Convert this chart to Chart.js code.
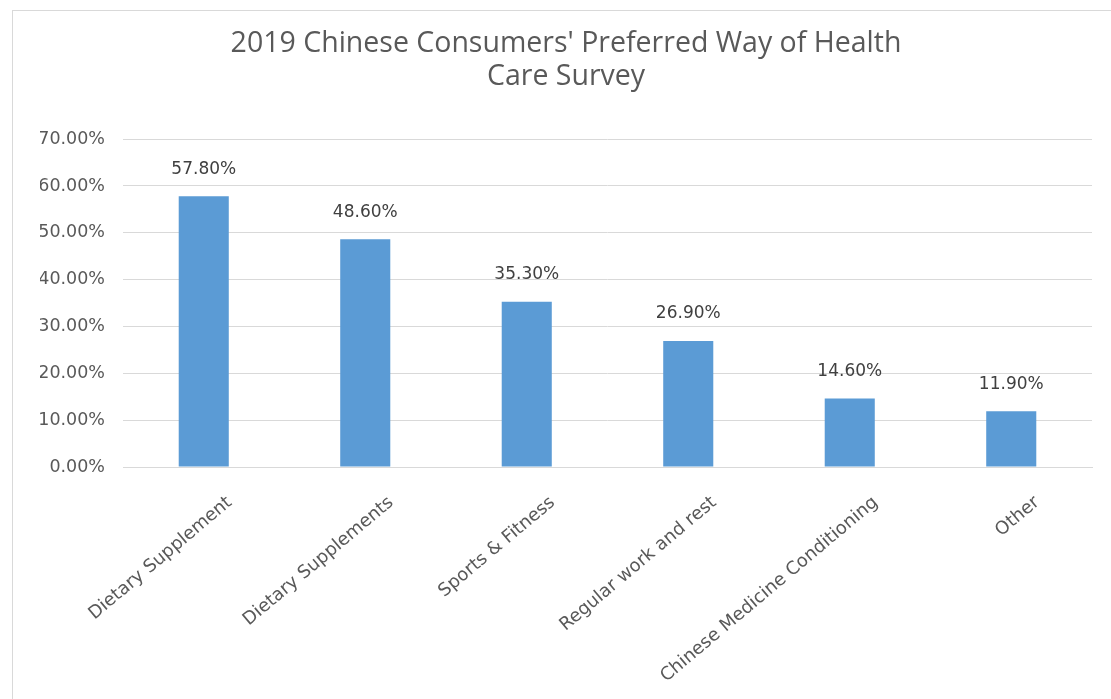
<!DOCTYPE html>
<html>
<head>
<meta charset="utf-8">
<script src="https://cdn.jsdelivr.net/npm/chart.js@4/dist/chart.umd.min.js"></script>
<style>
  html, body { margin: 0; padding: 0; background: #fff; }
  #frame { position: absolute; left: 12px; top: 10px; width: 1105px; height: 700px; border: 1px solid #d9d9d9; }
  #wrap { position: absolute; left: 0; top: 0; width: 1111px; height: 699px; }
</style>
</head>
<body>
<div id="frame"></div>
<div id="wrap"><canvas id="c" width="1111" height="699"></canvas></div>
<script>
const titleLines = ["2019 Chinese Consumers' Preferred Way of Health", "Care Survey"];
const categories = ["Dietary Supplement", "Dietary Supplements", "Sports & Fitness", "Regular work and rest", "Chinese Medicine Conditioning", "Other"];
const shares = [57.8, 48.6, 35.3, 26.9, 14.6, 11.9];
const yMax = 70;
const yStep = 10;

// value labels above each bar
const barLabels = {
  id: 'barLabels',
  afterDatasetsDraw(chart) {
    const ctx = chart.ctx;
    const meta = chart.getDatasetMeta(0);
    ctx.save();
    ctx.font = '17px "DejaVu Sans"';
    ctx.fillStyle = '#404040';
    ctx.textAlign = 'center';
    ctx.textBaseline = 'middle';
    meta.data.forEach((bar, i) => {
      ctx.fillText(shares[i].toFixed(2) + '%', bar.x, bar.y - 27);
    });
    ctx.restore();
  }
};

const ctx = document.getElementById('c').getContext('2d');
new Chart(ctx, {
  type: 'bar',
  data: {
    labels: categories,
    datasets: [{
      data: shares,
      backgroundColor: '#5b9bd5',
      barPercentage: 0.31,
      categoryPercentage: 1
    }]
  },
  options: {
    responsive: false,
    animation: false,
    layout: { padding: { left: 40, right: 19, top: 0, bottom: 0 } },
    plugins: {
      legend: { display: false },
      tooltip: { enabled: false },
      title: {
        display: true,
        text: titleLines,
        color: '#595959',
        font: { family: '"Open Sans"', size: 28.5, weight: 'normal', lineHeight: 1.16 },
        padding: { top: 27, bottom: 46 }
      }
    },
    scales: {
      x: {
        grid: { display: false },
        border: { display: true, color: '#d9d9d9' },
        ticks: {
          color: '#595959',
          font: { family: '"DejaVu Sans"', size: 18 },
          maxRotation: 40,
          minRotation: 40,
          padding: 17,
          labelOffset: 26
        },
        afterFit(s) { s.height = 232; }
      },
      y: {
        min: 0,
        max: yMax,
        grid: { color: '#d9d9d9', drawTicks: false },
        border: { display: false },
        ticks: {
          stepSize: yStep,
          color: '#595959',
          font: { family: '"DejaVu Sans"', size: 17.5 },
          padding: 18,
          callback: v => v.toFixed(2) + '%'
        },
        afterFit(s) { s.width = 83; }
      }
    }
  },
  plugins: [barLabels]
});
</script>
</body>
</html>
